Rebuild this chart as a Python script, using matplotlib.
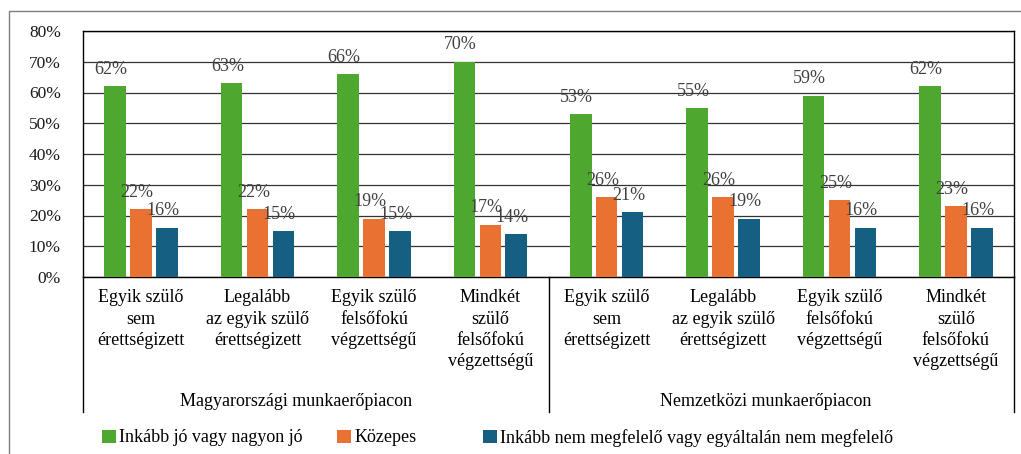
import numpy as np
import matplotlib.pyplot as plt
from matplotlib.patches import Patch, Rectangle

plt.rcParams['font.family'] = ['Liberation Serif', 'DejaVu Serif']

categories = ["Egyik szülő\nsem\nérettségizett",
              "Legalább\naz egyik szülő\nérettségizett",
              "Egyik szülő\nfelsőfokú\nvégzettségű",
              "Mindkét\nszülő\nfelsőfokú\nvégzettségű"] * 2
groups = ["Magyarországi munkaerőpiacon", "Nemzetközi munkaerőpiacon"]
series = ["Inkább jó vagy nagyon jó", "Közepes",
          "Inkább nem megfelelő vagy egyáltalán nem megfelelő"]
good = [62, 63, 66, 70, 53, 55, 59, 62]
medium = [22, 22, 19, 17, 26, 26, 25, 23]
bad = [16, 15, 15, 14, 21, 19, 16, 16]
colors = ["#4EA72E", "#E97132", "#156082"]

fig = plt.figure(figsize=(10.21, 4.54), dpi=100)
# outer frame
fig.patches.append(Rectangle((9 / 1021, -0.1), 1.2, 1 - 11 / 454 + 0.1,
                             transform=fig.transFigure, fill=False,
                             edgecolor="#7f7f7f", lw=1.0))
ax = fig.add_axes([83 / 1021, 1 - 277 / 454, (1014 - 83) / 1021, (277 - 31) / 454])

x = np.arange(len(categories))
w = 0.185
step = 0.223
for i, (vals, col) in enumerate(zip([good, medium, bad], colors)):
    pos = x + (i - 1) * step
    ax.bar(pos, vals, w, color=col, zorder=3, label=series[i])
    for p, v in zip(pos, vals):
        ax.annotate(f"{v}%", (p, v), xytext=(-3, 6), textcoords="offset points",
                    ha="center", va="bottom", fontsize=13, color="#404040", zorder=4)

ax.set_xlim(-0.5, len(categories) - 0.5)
ax.set_ylim(0, 80)
ax.set_yticks(np.arange(0, 81, 10))
ax.set_yticklabels([f"{t}%" for t in range(0, 81, 10)])
ax.yaxis.grid(True, color="#333333", lw=0.9, zorder=0)
ax.tick_params(axis="y", length=0, pad=16, labelsize=12.5, colors="#1a1a1a")
ax.set_xticks(x)
ax.set_xticklabels(categories, linespacing=1.33)
ax.tick_params(axis="x", length=0, pad=9, labelsize=13)
for s in ax.spines.values():
    s.set_color("black")
    s.set_linewidth(1.0)

tr = ax.get_xaxis_transform()
for xv in [-0.5, 3.5, 7.5]:
    ax.plot([xv, xv], [0, -0.549], color="black", lw=1.0, transform=tr, clip_on=False)
ax.text(1.5 - 0.17, -0.508, groups[0], transform=tr, ha="center", va="center", fontsize=13)
ax.text(5.5 - 0.13, -0.508, groups[1], transform=tr, ha="center", va="center", fontsize=13)

for name, col, xpos in zip(series, colors, [102, 337, 483]):
    fig.legend(handles=[Patch(facecolor=col, label=name)], loc="center left",
               bbox_to_anchor=(xpos / 1021, 1 - 438 / 454), frameon=False,
               handlelength=0.75, handleheight=0.75, handletextpad=0.2,
               borderpad=0, borderaxespad=0, fontsize=13)

fig.savefig("out.png", dpi=100)
